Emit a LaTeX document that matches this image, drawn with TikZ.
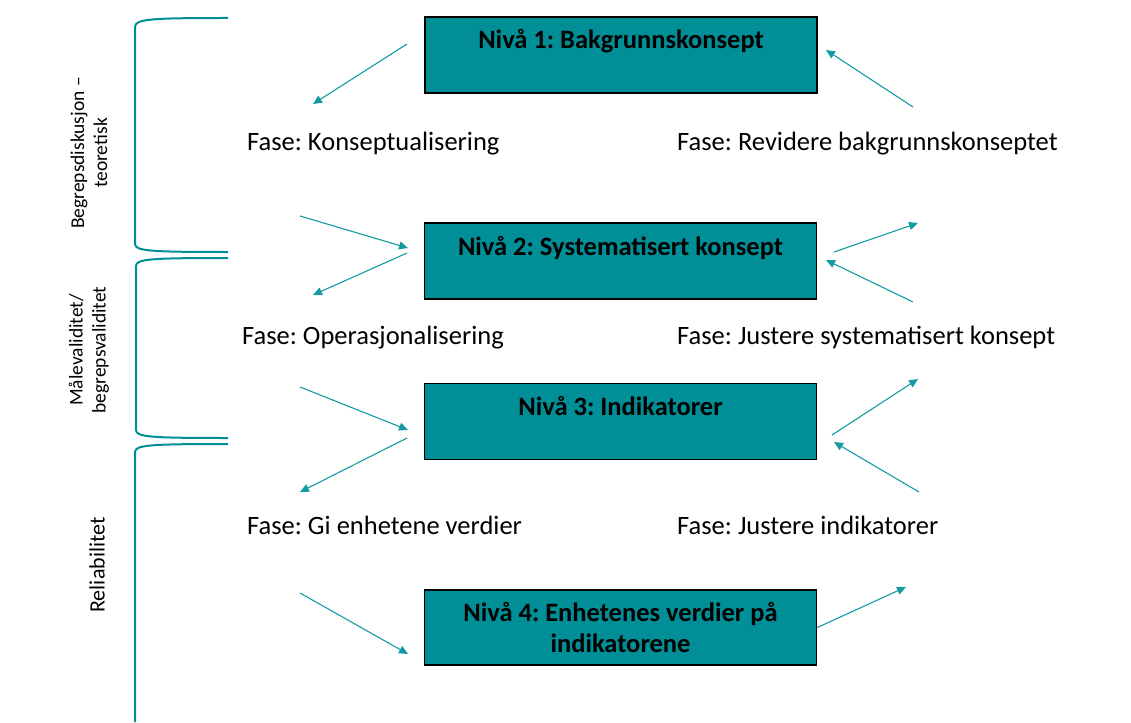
\documentclass[tikz,border=0pt]{standalone}
\usepackage{fontspec}
\setmainfont{Carlito}
\frenchspacing
\usetikzlibrary{arrows.meta}
\definecolor{boxteal}{RGB}{0,143,150}
\definecolor{lineteal}{RGB}{20,155,162}

\begin{document}
\begin{tikzpicture}[x=1pt,y=-1pt]
			\tikzstyle{level_box}= [draw=black,fill=boxteal,line width=1.6pt,rectangle,minimum width=392pt,inner xsep=0pt,inner ysep=0pt,text height=32pt,text depth=44pt,font=\fontsize{26.5}{30}\selectfont\bfseries]
			\tikzstyle{level_box2}= [draw=black,fill=boxteal,line width=1.6pt,rectangle,minimum width=392pt,minimum height=75pt,align=center,font=\fontsize{26.5}{31}\selectfont\bfseries]
			\tikzstyle{phase}= [anchor=base west,inner sep=0pt,font=\fontsize{26.5}{30}\selectfont]
			\tikzstyle{side_label}= [rotate=90,align=center,inner sep=0pt,font=\fontsize{19.5}{23}\selectfont]
			\tikzstyle{flow}= [draw=lineteal,line width=1.1pt,-{Triangle[length=9pt,width=8pt]}]
			\tikzstyle{bracket}= [draw=boxteal,line width=2pt]
			\useasboundingbox (0,0) rectangle (1131,722);
			\node [level_box] (n1) at (621,55) {Nivå 1: Bakgrunnskonsept};
			\node [level_box] (n2) at (620.5,261) {Nivå 2: Systematisert konsept};
			\node [level_box] (n3) at (620.5,421.5) {Nivå 3: Indikatorer};
			\node [level_box2] (n4) at (620.5,627.5) {Nivå 4: Enhetenes verdier på\\indikatorene};
			\node [phase] (f1) at (247,150) {Fase: Konseptualisering};
			\node [phase] (f2) at (677,150) {Fase: Revidere bakgrunnskonseptet};
			\node [phase] (f3) at (242,344) {Fase: Operasjonalisering};
			\node [phase] (f4) at (677,344) {Fase: Justere systematisert konsept};
			\node [phase] (f5) at (247,534) {Fase: Gi enhetene verdier};
			\node [phase] (f6) at (677,534) {Fase: Justere indikatorer};
			\node [side_label] (s1) at (89,153) {Begrepsdiskusjon –\\teoretisk};
			\node [side_label] (s2) at (89,350) {Målevaliditet/\\begrepsvaliditet};
			\node [side_label,font=\fontsize{22}{26}\selectfont] (s3) at (97,565) {Reliabilitet};
			\coordinate (a1s) at (407,44);
			\coordinate (a1e) at (313,104);
			\coordinate (a2s) at (913,107);
			\coordinate (a2e) at (826,50);
			\coordinate (a3s) at (300,216);
			\coordinate (a3e) at (408,248);
			\coordinate (a4s) at (407,253);
			\coordinate (a4e) at (313,295);
			\coordinate (a5s) at (834,252);
			\coordinate (a5e) at (918,223);
			\coordinate (a6s) at (913,302);
			\coordinate (a6e) at (826,260);
			\coordinate (a7s) at (300,387);
			\coordinate (a7e) at (408,430);
			\coordinate (a8s) at (407,438);
			\coordinate (a8e) at (300,492);
			\coordinate (a9s) at (832,435);
			\coordinate (a9e) at (918,379);
			\coordinate (a10s) at (919,492);
			\coordinate (a10e) at (834,442);
			\coordinate (a11s) at (300,593);
			\coordinate (a11e) at (408,654);
			\coordinate (a12e) at (906,587);
			\draw [flow] (a1s) -- (a1e);
			\draw [flow] (a2s) -- (a2e);
			\draw [flow] (a3s) -- (a3e);
			\draw [flow] (a4s) -- (a4e);
			\draw [flow] (a5s) -- (a5e);
			\draw [flow] (a6s) -- (a6e);
			\draw [flow] (a7s) -- (a7e);
			\draw [flow] (a8s) -- (a8e);
			\draw [flow] (a9s) -- (a9e);
			\draw [flow] (a10s) -- (a10e);
			\draw [flow] (a11s) -- (a11e);
			\draw [flow] (n4.east) -- (a12e);
			\draw [bracket] (228,18) .. controls (150,18) and (135,19) .. (135,27) -- (135,244) .. controls (135,251) and (150,252) .. (228,252);
			\draw [bracket] (228,258) .. controls (150,258) and (136,259) .. (136,266) -- (136,430) .. controls (136,437) and (150,438) .. (228,438);
			\draw [bracket] (228,444) .. controls (150,444) and (135,445) .. (135,452) -- (135,722);
		\end{tikzpicture}
\end{document}
